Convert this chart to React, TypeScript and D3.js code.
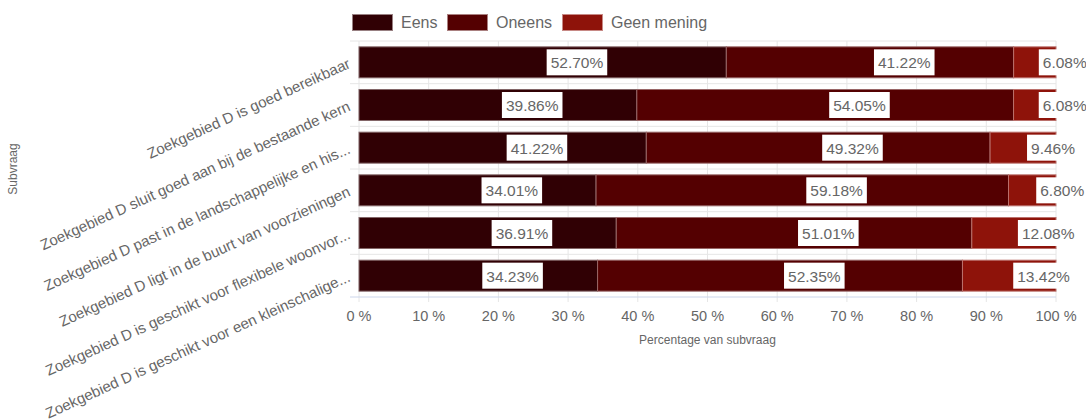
import React from "react";
import * as d3 from "d3";

const categories = [
  "Zoekgebied D is goed bereikbaar",
  "Zoekgebied D sluit goed aan bij de bestaande kern",
  "Zoekgebied D past in de landschappelijke en his...",
  "Zoekgebied D ligt in de buurt van voorzieningen",
  "Zoekgebied D is geschikt voor flexibele woonvor...",
  "Zoekgebied D is geschikt voor een kleinschalige...",
];
const seriesNames = ["Eens", "Oneens", "Geen mening"];
const eens = [52.7, 39.86, 41.22, 34.01, 36.91, 34.23];
const oneens = [41.22, 54.05, 49.32, 59.18, 51.01, 52.35];
const geenMening = [6.08, 6.08, 9.46, 6.8, 12.08, 13.42];
const colors = ["#300004", "#540001", "#8e130a"];
const xTicks = [0, 10, 20, 30, 40, 50, 60, 70, 80, 90, 100];

const W = 1086;
const H = 419;
const M = { left: 359, right: 1056, top: 41, bottom: 297 };
const FONT = "'Liberation Sans', Arial, sans-serif";

function textWidth(s: string, size: number) {
  if (typeof document === "undefined") return s.length * size * 0.55;
  const c = (textWidth as any)._c || ((textWidth as any)._c = document.createElement("canvas"));
  const ctx = c.getContext("2d");
  ctx.font = `${size}px ${FONT}`;
  return ctx.measureText(s).width;
}

export default function App() {
  const x = d3.scaleLinear().domain([0, 100]).range([M.left, M.right]);
  const y = d3
    .scaleBand<string>()
    .domain(categories)
    .range([M.top, M.bottom])
    .paddingInner(0.274)
    .paddingOuter(0.137);
  const step = y.step();

  const rows = categories.map((c, i) => ({
    cat: c,
    eens: eens[i],
    oneens: oneens[i],
    geen: geenMening[i],
  }));
  const stack = d3.stack<any>().keys(["eens", "oneens", "geen"])(rows);

  const legendX = [352, 447, 562];
  const labelSize = 15.5;

  return (
    <svg
      width={W}
      height={H}
      style={{ position: "absolute", left: 0, top: 0, background: "#fff" }}
      fontFamily={FONT}
    >
      {/* legend */}
      {seriesNames.map((s, i) => (
        <g key={s}>
          <rect
            x={legendX[i] + 0.5}
            y={14.5}
            width={40}
            height={16}
            fill={colors[i]}
            stroke={d3.interpolateRgb(colors[i], "#fff")(0.5)}
            strokeWidth={1}
          />
          <text x={legendX[i] + 49} y={22.5} dominantBaseline="central" fontSize={16} fill="#666">
            {s}
          </text>
        </g>
      ))}

      {/* vertical grid */}
      {xTicks.map((t) => (
        <line
          key={t}
          x1={x(t)}
          x2={x(t)}
          y1={M.top}
          y2={M.bottom + 5}
          stroke="#e6e6e6"
          strokeWidth={1}
        />
      ))}
      {/* category boundaries */}
      {d3.range(categories.length + 1).map((k) => (
        <line
          key={k}
          x1={k === categories.length ? 350 : 350}
          x2={M.right}
          y1={M.top + k * step}
          y2={M.top + k * step}
          stroke={k === categories.length ? "#ccd6eb" : "#e6e6e6"}
          strokeWidth={1}
        />
      ))}

      {/* bars */}
      {stack.map((layer, si) => (
        <g key={si}>
          {layer.map((d: any, i: number) => (
            <rect
              key={i}
              x={x(d[0])}
              y={y(categories[i])}
              width={x(d[1]) - x(d[0])}
              height={y.bandwidth()}
              fill={colors[si]}
              stroke={d3.interpolateRgb(colors[si], "#fff")(0.4)}
              strokeWidth={1}
            />
          ))}
        </g>
      ))}

      {/* data labels */}
      {stack.map((layer, si) => (
        <g key={"l" + si}>
          {layer.map((d: any, i: number) => {
            const v = d[1] - d[0];
            const s = v.toFixed(2) + "%";
            const tw = textWidth(s, labelSize);
            const cx = (x(d[0]) + x(d[1])) / 2 + 4;
            const cy = (y(categories[i]) as number) + y.bandwidth() / 2;
            return (
              <g key={i}>
                <rect x={cx} y={cy - 13} width={tw + 8} height={26} fill="#fff" />
                <text
                  x={cx + 4}
                  y={cy + 0.5}
                  dominantBaseline="central"
                  fontSize={labelSize}
                  fill="#666"
                >
                  {s}
                </text>
              </g>
            );
          })}
        </g>
      ))}

      {/* x tick labels */}
      {xTicks.map((t) => (
        <text
          key={"t" + t}
          x={x(t)}
          y={316}
          textAnchor="middle"
          dominantBaseline="central"
          fontSize={14.5}
          fill="#666"
        >
          {t + " %"}
        </text>
      ))}
      <text
        x={(M.left + M.right) / 2}
        y={340}
        textAnchor="middle"
        dominantBaseline="central"
        fontSize={12}
        fill="#666"
      >
        Percentage van subvraag
      </text>

      {/* y labels */}
      {categories.map((c) => {
        const cy = (y(c) as number) + y.bandwidth() / 2;
        return (
          <text
            key={c}
            transform={`translate(349,${cy}) rotate(-24.5)`}
            textAnchor="end"
            dominantBaseline="central"
            fontSize={15}
            fill="#666"
          >
            {c}
          </text>
        );
      })}
      <text
        transform={`translate(13,${(M.top + M.bottom) / 2}) rotate(-90)`}
        textAnchor="middle"
        dominantBaseline="central"
        fontSize={12}
        fill="#666"
      >
        Subvraag
      </text>
    </svg>
  );
}
